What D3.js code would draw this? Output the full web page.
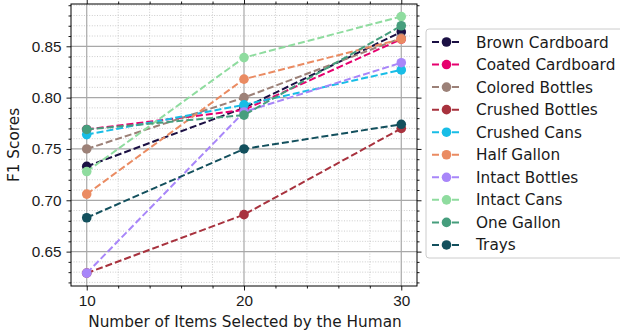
<!DOCTYPE html>
<html>
<head>
<meta charset="utf-8">
<script src="https://cdn.jsdelivr.net/npm/d3@7"></script>
<style>
  body { margin: 0; background: #fff; }
  svg { display: block; font-family: "DejaVu Sans", sans-serif; }
</style>
</head>
<body>
<script>
"use strict";
// data
var items = [10, 20, 30];
var categories = ["Brown Cardboard", "Coated Cardboard", "Colored Bottles", "Crushed Bottles",
    "Crushed Cans", "Half Gallon", "Intact Bottles", "Intact Cans", "One Gallon", "Trays"];
var brownCardboard   = [0.733, 0.790, 0.864];
var coatedCardboard  = [0.769, 0.788, 0.857];
var coloredBottles   = [0.750, 0.800, 0.858];
var crushedBottles   = [0.629, 0.686, 0.770];
var crushedCans      = [0.764, 0.793, 0.827];
var halfGallon       = [0.706, 0.818, 0.857];
var intactBottles    = [0.629, 0.786, 0.834];
var intactCans       = [0.728, 0.839, 0.879];
var oneGallon        = [0.769, 0.783, 0.870];
var trays            = [0.683, 0.750, 0.774];
var colors = ["#1b1044", "#e6006e", "#9c8178", "#a8323e", "#18bde6",
    "#ea8b62", "#a886f9", "#8fdc9f", "#469e7d", "#13505d"];
var yMajorTicks = [0.65, 0.70, 0.75, 0.80, 0.85];

var series = [brownCardboard, coatedCardboard, coloredBottles, crushedBottles, crushedCans,
    halfGallon, intactBottles, intactCans, oneGallon, trays].map(function(v, i) {
    return { name: categories[i], color: colors[i], values: v };
});

var W = 620, H = 332;
var pLeft = 71, pRight = 417, pTop = 4, pBottom = 286;

var svg = d3.select("body").append("svg")
    .attr("width", W).attr("height", H);

var x = d3.scaleLinear().domain([9, 31]).range([pLeft, pRight]);
var y = d3.scaleLinear().domain([0.6165, 0.8912]).range([pBottom, pTop]);

var xMinor = d3.range(10, 31, 2).filter(function(d) { return d % 10 !== 0; });
var yMinor = d3.range(62, 90).map(function(d) { return d / 100; })
    .filter(function(d) { return Math.round(d * 100) % 5 !== 0; });

// grid
var grid = svg.append("g");
grid.selectAll(".xminor").data(xMinor).enter().append("line")
    .attr("x1", x).attr("x2", x).attr("y1", pTop).attr("y2", pBottom)
    .attr("stroke", "#c0c0c0").attr("stroke-width", 0.8).attr("stroke-dasharray", "1,1.6");
grid.selectAll(".yminor").data(yMinor).enter().append("line")
    .attr("x1", pLeft).attr("x2", pRight).attr("y1", y).attr("y2", y)
    .attr("stroke", "#c0c0c0").attr("stroke-width", 0.8).attr("stroke-dasharray", "1,1.6");
grid.selectAll(".xmajor").data(items).enter().append("line")
    .attr("x1", x).attr("x2", x).attr("y1", pTop).attr("y2", pBottom)
    .attr("stroke", "#a8a8a8").attr("stroke-width", 1.2);
grid.selectAll(".ymajor").data(yMajorTicks).enter().append("line")
    .attr("x1", pLeft).attr("x2", pRight).attr("y1", y).attr("y2", y)
    .attr("stroke", "#a8a8a8").attr("stroke-width", 1.2);

// axes on all four sides
function styleAxis(g) {
    g.select(".domain").remove();
    g.selectAll("line").attr("stroke", "#000").attr("stroke-width", 0.9);
    g.selectAll("text").attr("font-size", "15.3px").attr("fill", "#1a1a1a");
}
svg.append("g").attr("transform", "translate(0," + pBottom + ")")
    .call(d3.axisBottom(x).tickValues(items).tickSize(4.5).tickPadding(5).tickFormat(d3.format("d")))
    .call(styleAxis);
svg.append("g").attr("transform", "translate(0," + pBottom + ")")
    .call(d3.axisBottom(x).tickValues(xMinor).tickSize(2.5).tickFormat(""))
    .call(styleAxis);
svg.append("g").attr("transform", "translate(0," + pTop + ")")
    .call(d3.axisTop(x).tickValues(items).tickSize(4.5).tickFormat(""))
    .call(styleAxis);
svg.append("g").attr("transform", "translate(0," + pTop + ")")
    .call(d3.axisTop(x).tickValues(xMinor).tickSize(2.5).tickFormat(""))
    .call(styleAxis);
svg.append("g").attr("transform", "translate(" + pLeft + ",0)")
    .call(d3.axisLeft(y).tickValues(yMajorTicks).tickSize(4.5).tickPadding(5).tickFormat(d3.format(".2f")))
    .call(styleAxis);
svg.append("g").attr("transform", "translate(" + pLeft + ",0)")
    .call(d3.axisLeft(y).tickValues(yMinor).tickSize(2.5).tickFormat(""))
    .call(styleAxis);
svg.append("g").attr("transform", "translate(" + pRight + ",0)")
    .call(d3.axisRight(y).tickValues(yMajorTicks).tickSize(4.5).tickFormat(""))
    .call(styleAxis);
svg.append("g").attr("transform", "translate(" + pRight + ",0)")
    .call(d3.axisRight(y).tickValues(yMinor).tickSize(2.5).tickFormat(""))
    .call(styleAxis);

// frame
svg.append("rect")
    .attr("x", pLeft).attr("y", pTop).attr("width", pRight - pLeft).attr("height", pBottom - pTop)
    .attr("fill", "none").attr("stroke", "#000").attr("stroke-width", 1);

// lines and markers
var line = d3.line()
    .x(function(d, i) { return x(items[i]); })
    .y(function(d) { return y(d); });

series.forEach(function(s) {
    var g = svg.append("g");
    g.append("path")
        .attr("d", line(s.values))
        .attr("fill", "none")
        .attr("stroke", s.color)
        .attr("stroke-width", 2)
        .attr("stroke-dasharray", "7,3");
    g.selectAll("circle").data(s.values).enter().append("circle")
        .attr("cx", function(d, i) { return x(items[i]); })
        .attr("cy", y)
        .attr("r", 4.8)
        .attr("fill", s.color);
});

// axis labels
svg.append("text")
    .attr("x", (pLeft + pRight) / 2 + 1).attr("y", 327)
    .attr("text-anchor", "middle").attr("font-size", "15.3px").attr("fill", "#1a1a1a")
    .text("Number of Items Selected by the Human");
svg.append("text")
    .attr("transform", "translate(19," + ((pTop + pBottom) / 2) + ") rotate(-90)")
    .attr("text-anchor", "middle").attr("font-size", "15.3px").attr("fill", "#1a1a1a")
    .text("F1 Scores");

// legend
var legend = svg.append("g");
legend.append("rect")
    .attr("x", 426).attr("y", 29).attr("width", 220).attr("height", 229)
    .attr("rx", 3)
    .attr("fill", "#fff").attr("fill-opacity", 0.8)
    .attr("stroke", "#cccccc").attr("stroke-width", 1);
var rows = legend.selectAll(".row").data(series).enter().append("g")
    .attr("transform", function(d, i) { return "translate(0," + (42 + i * 22.55) + ")"; });
rows.append("line")
    .attr("x1", 432).attr("x2", 461).attr("y1", 0).attr("y2", 0)
    .attr("stroke", function(d) { return d.color; })
    .attr("stroke-width", 2).attr("stroke-dasharray", "7,3");
rows.append("circle")
    .attr("cx", 446.5).attr("cy", 0).attr("r", 4.8)
    .attr("fill", function(d) { return d.color; });
rows.append("text")
    .attr("x", 476).attr("y", 0).attr("dy", "0.36em")
    .attr("font-size", "15.3px").attr("fill", "#1a1a1a")
    .text(function(d) { return d.name; });
</script>
</body>
</html>
